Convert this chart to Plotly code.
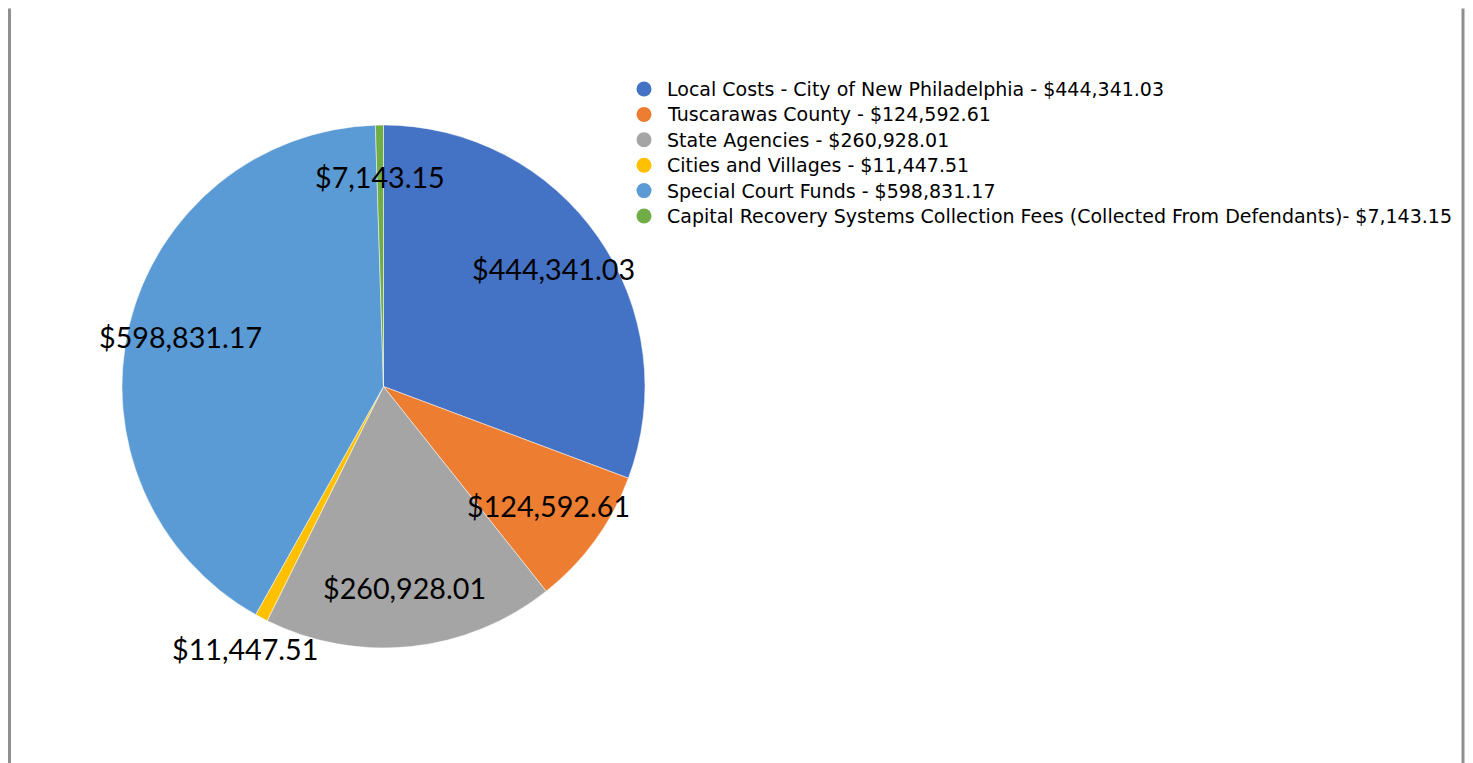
import math
import plotly.graph_objects as go

# Data
categories = [
    "Local Costs - City of New Philadelphia",
    "Tuscarawas County",
    "State Agencies",
    "Cities and Villages",
    "Special Court Funds",
    "Capital Recovery Systems Collection Fees (Collected From Defendants)",
]
amounts = [444341.03, 124592.61, 260928.01, 11447.51, 598831.17, 7143.15]
legend_seps = [" - ", " - ", " - ", " - ", " - ", "- "]

colors = ["#4472C4", "#ED7D31", "#A5A5A5", "#FFC000", "#5B9BD5", "#70AD47"]
label_radius = [0.79, 0.78, 0.775, 1.135, 0.80, 0.80]  # label distance / pie radius

# page body has an 8px margin, so the figure is drawn 8px in from the window edge
OFF = 8
W, H = 1473 - 2 * OFF, 763 - OFF
LABEL_FONT = "Lato, Liberation Sans, sans-serif"
LEGEND_FONT = "DejaVu Sans, sans-serif"

# pie placement in figure pixels
cx, cy, r = 383.5 - OFF, 386.5 - OFF, 261.5
dom_x = [(cx - r) / W, (cx + r) / W]
dom_y = [1 - (cy + r) / H, 1 - (cy - r) / H]

# legend layout (figure pixels)
leg_marker_x, leg_text_x = 644 - OFF, 665 - OFF
leg_top, leg_step, leg_dot = 89 - OFF, 25.4, 7.5


def money(v):
    return f"${v:,.2f}"


fig = go.Figure()

fig.add_trace(
    go.Pie(
        labels=categories,
        values=amounts,
        sort=False,
        direction="clockwise",
        rotation=0,
        marker=dict(colors=colors, line=dict(color="white", width=0.5)),
        textinfo="none",
        hoverinfo="label+value",
        showlegend=False,
        domain=dict(x=dom_x, y=dom_y),
    )
)

# legend: round markers and entry text
for i, (name, val, sep, col) in enumerate(zip(categories, amounts, legend_seps, colors)):
    yc = leg_top + i * leg_step
    fig.add_shape(
        type="circle",
        xref="paper",
        yref="paper",
        x0=(leg_marker_x - leg_dot) / W,
        x1=(leg_marker_x + leg_dot) / W,
        y0=1 - (yc + leg_dot) / H,
        y1=1 - (yc - leg_dot) / H,
        fillcolor=col,
        line_width=0,
    )
    fig.add_annotation(
        x=leg_text_x / W,
        y=1 - yc / H,
        xref="paper",
        yref="paper",
        xanchor="left",
        yanchor="middle",
        text=f"{name}{sep}{money(val)}",
        showarrow=False,
        font=dict(size=19.0, color="#000000", family=LEGEND_FONT),
    )

# data labels placed at slice mid-angles
total = sum(amounts)
cum = 0.0
for val, f in zip(amounts, label_radius):
    mid = (cum + val / 2) / total * 2 * math.pi
    cum += val
    px = cx + f * r * math.sin(mid)
    py = cy - f * r * math.cos(mid)
    fig.add_annotation(
        x=px / W,
        y=1 - py / H,
        xref="paper",
        yref="paper",
        xanchor="center",
        yanchor="middle",
        text=money(val),
        showarrow=False,
        font=dict(size=28.7, color="#000000", family=LABEL_FONT),
    )

# grey frame lines at left and right
for xp in [1.5, W - 2]:
    fig.add_shape(
        type="line",
        xref="paper",
        yref="paper",
        x0=xp / W,
        x1=xp / W,
        y0=0,
        y1=1 - 0.5 / H,
        line=dict(color="#8f8f8f", width=3),
    )

fig.update_layout(
    width=W,
    height=H,
    margin=dict(l=0, r=0, t=0, b=0),
    paper_bgcolor="white",
    plot_bgcolor="white",
    showlegend=False,
)

fig.write_html("out.html")
